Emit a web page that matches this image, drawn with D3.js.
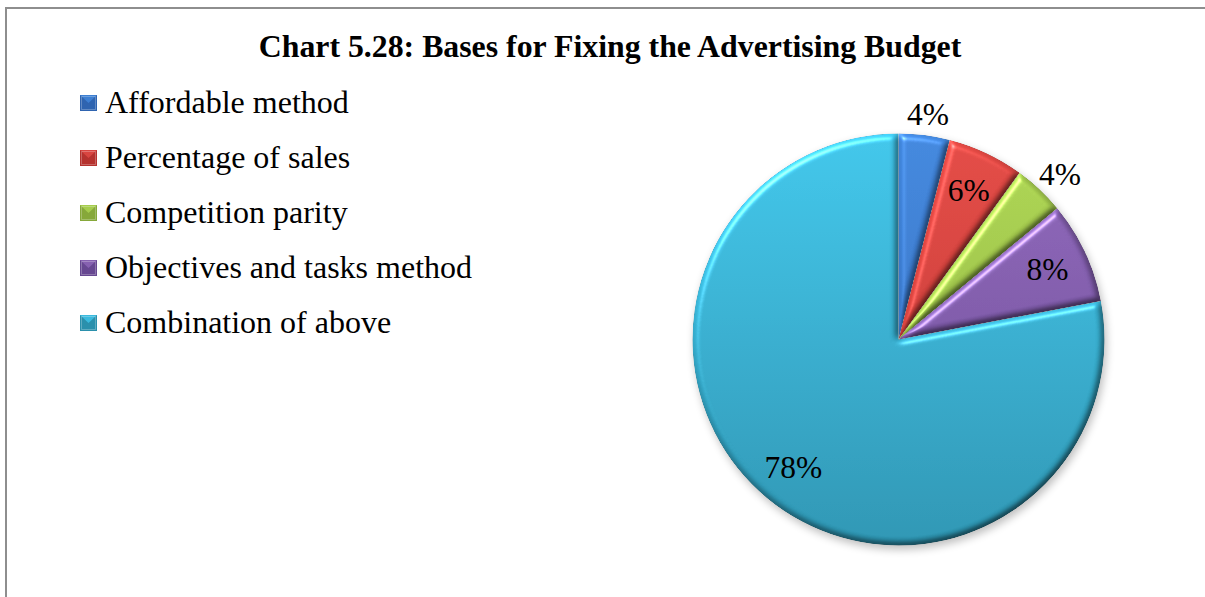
<!DOCTYPE html>
<html>
<head>
<meta charset="utf-8">
<script src="https://cdn.jsdelivr.net/npm/d3@7"></script>
<style>
  html, body { margin: 0; padding: 0; background: #fff; }
  svg { display: block; }
  text { font-family: "Liberation Serif", "Times New Roman", serif; fill: #000; }
</style>
</head>
<body>
<svg id="chart" width="1205" height="597"></svg>
<script>
// Survey shares: bases used for fixing the advertising budget
const categories = [
  "Affordable method",
  "Percentage of sales",
  "Competition parity",
  "Objectives and tasks method",
  "Combination of above"
];
const values = [4, 6, 4, 8, 78];
const valueLabels = ["4%", "6%", "4%", "8%", "78%"];
const labelInside = [false, true, false, true, true];

// Palette: [light top, dark bottom] per slice
const palette = [
  ["#3f82d6", "#2f64b0"],
  ["#dc4742", "#b5322e"],
  ["#a8cf50", "#86a83a"],
  ["#8a64b4", "#674891"],
  ["#3dbfe3", "#2b90ac"]
];

const svg = d3.select("#chart");
const W = 1205, H = 597;

// Frame around the chart area
svg.append("rect")
  .attr("x", 6).attr("y", 8)
  .attr("width", W + 50).attr("height", H + 50)
  .attr("fill", "none")
  .attr("stroke", "#8e8e8e")
  .attr("stroke-width", 2);

// Title
svg.append("text")
  .attr("x", 610).attr("y", 57)
  .attr("text-anchor", "middle")
  .style("font-size", "31.8px")
  .style("font-weight", "bold")
  .text("Chart 5.28: Bases for Fixing the Advertising Budget");

const defs = svg.append("defs");

// Bevel: diffuse shading on a blurred alpha bump plus a specular edge glint
const bevel = defs.append("filter").attr("id", "bevel")
  .attr("color-interpolation-filters", "sRGB")
  .attr("x", "-5%").attr("y", "-5%").attr("width", "110%").attr("height", "110%");
bevel.append("feGaussianBlur").attr("in", "SourceAlpha").attr("stdDeviation", 3.2).attr("result", "bump");
bevel.append("feDiffuseLighting").attr("in", "bump").attr("surfaceScale", 4.5)
  .attr("diffuseConstant", 1).attr("lighting-color", "#fff").attr("result", "diff")
  .append("feDistantLight").attr("azimuth", 235).attr("elevation", 55);
bevel.append("feComposite").attr("in", "SourceGraphic").attr("in2", "diff")
  .attr("operator", "arithmetic").attr("k1", 0.75).attr("k2", 0.4).attr("k3", 0).attr("k4", 0)
  .attr("result", "shaded");
bevel.append("feSpecularLighting").attr("in", "bump").attr("surfaceScale", 4.5)
  .attr("specularConstant", 0.8).attr("specularExponent", 30).attr("lighting-color", "#ffffff")
  .attr("result", "spec")
  .append("feDistantLight").attr("azimuth", 235).attr("elevation", 40);
bevel.append("feComposite").attr("in", "spec").attr("in2", "SourceAlpha").attr("operator", "in").attr("result", "specIn");
bevel.append("feComposite").attr("in", "shaded").attr("in2", "specIn")
  .attr("operator", "arithmetic").attr("k2", 1).attr("k3", 0.5).attr("result", "lit");
bevel.append("feComposite").attr("in", "lit").attr("in2", "SourceAlpha").attr("operator", "in");

// Soft shadow under the pie
const shadow = defs.append("filter").attr("id", "shadow")
  .attr("x", "-20%").attr("y", "-20%").attr("width", "140%").attr("height", "140%");
shadow.append("feGaussianBlur").attr("stdDeviation", 4);

const cx = 898.5, cy = 339.5, R = 206;

// Vertical shading, in the slice's own (centred) coordinates
palette.forEach((c, i) => {
  const g = defs.append("linearGradient").attr("id", "grad" + i)
    .attr("gradientUnits", "userSpaceOnUse")
    .attr("x1", 0).attr("y1", -R).attr("x2", 0).attr("y2", R);
  g.append("stop").attr("offset", "0%").attr("stop-color", c[0]);
  g.append("stop").attr("offset", "100%").attr("stop-color", c[1]);
});

const pie = d3.pie().sort(null).value(d => d);
const arcs = pie(values);
const arc = d3.arc().innerRadius(0).outerRadius(R);

const pieG = svg.append("g").attr("transform", `translate(${cx},${cy})`);

pieG.append("circle")
  .attr("cx", 2).attr("cy", 4).attr("r", R)
  .attr("fill", "#000").attr("opacity", 0.25)
  .attr("filter", "url(#shadow)");

pieG.selectAll("path.slice")
  .data(arcs)
  .join("path")
  .attr("class", "slice")
  .attr("d", arc)
  .attr("fill", (d, i) => `url(#grad${i})`)
  .attr("filter", "url(#bevel)");

// Value labels
const fs = 31.5;
pieG.selectAll("text.val")
  .data(arcs)
  .join("text")
  .attr("class", "val")
  .attr("text-anchor", "middle")
  .attr("dy", "0.35em")
  .style("font-size", fs + "px")
  .attr("transform", (d, i) => {
    const a = (d.startAngle + d.endAngle) / 2;
    let x, y;
    if (labelInside[i]) {
      const r = R * 0.8;
      x = Math.sin(a) * r;
      y = -Math.cos(a) * r;
    } else {
      const r = R + 8;
      const w = 44, h = 26;
      x = Math.sin(a) * r + Math.sin(a) * w / 2;
      y = -Math.cos(a) * r - Math.cos(a) * h / 2;
    }
    return `translate(${x},${y})`;
  })
  .text((d, i) => valueLabels[i]);

// Legend
const legend = svg.append("g");
const rowY = d3.scalePoint().domain(categories).range([113, 333]);
const items = legend.selectAll("g.item")
  .data(categories)
  .join("g")
  .attr("class", "item")
  .attr("transform", d => `translate(80,${rowY(d)})`);

items.append("rect")
  .attr("x", 0).attr("y", -18)
  .attr("width", 17).attr("height", 16)
  .attr("fill", (d, i) => palette[i][1]);
items.append("path")
  .attr("d", "M0,-18 L17,-18 L8.5,-10 Z")
  .attr("fill", (d, i) => palette[i][0])
  .attr("opacity", 0.9);
items.append("path")
  .attr("d", "M1.5,-16.5 L15.5,-16.5 L15.5,-3.5 L1.5,-3.5 Z")
  .attr("fill", "none")
  .attr("stroke", "#ffffff")
  .attr("stroke-opacity", 0.25)
  .attr("stroke-width", 1);

items.append("text")
  .attr("x", 25).attr("y", 0)
  .style("font-size", "32px")
  .text(d => d);
</script>
</body>
</html>
